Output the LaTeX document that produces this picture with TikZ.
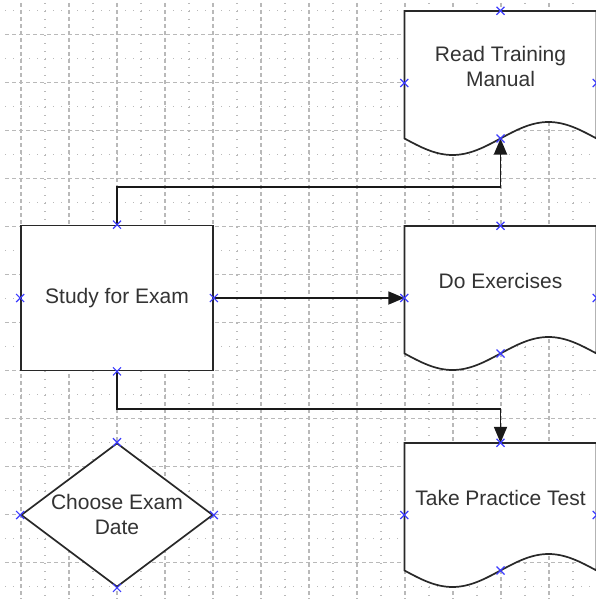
\documentclass[tikz,border=0pt]{standalone}
\usepackage{fontspec}
\setmainfont{Liberation Sans}
\usetikzlibrary{arrows.meta,shapes.geometric}
\definecolor{gridc}{RGB}{185,185,185}
\definecolor{xblue}{RGB}{60,60,255}
\definecolor{edgec}{RGB}{40,40,40}
\newcommand\mydoc[4]{% name, center x, top y, text
  \node[minimum width=192pt, minimum height=144pt, inner sep=0] (#1) at (#2,#3+72) {};
  \draw[shapeline] (#2-96,#3+127.5) -- (#2-96,#3) -- (#2+96,#3) -- (#2+96,#3+127.5)
     sin (#2+48,#3+111) cos (#2,#3+127.5) sin (#2-48,#3+144) cos (#2-96,#3+127.5) -- cycle;
  \coordinate (#1b) at (#2,#3+127.5);
  \node[lbl] (#1t) at (#2,#3+55) {#4};
}
\begin{document}
\begin{tikzpicture}[x=1pt,y=-1pt,
  major/.style={gridc, line width=1.2pt, dash pattern=on 4pt off 3pt},
  minor/.style={gridc, line width=1.2pt, dash pattern=on 1.2pt off 6.8pt},
  shapeline/.style={draw=edgec, line width=1.7pt, fill=white},
  lbl/.style={font=\fontsize{21}{25}\selectfont, text=black!80, align=center, inner sep=0},
  conn/.style={draw=black!90, line width=1.8pt, -{Triangle[length=16pt,width=13pt]}},
  xm/.style={xblue, line width=1.2pt}]
\useasboundingbox (0,0) rectangle (596,599);
% grid
\foreach \x in {45,93,...,597} \draw[minor] (\x,3) -- (\x,599);
\foreach \y in {10.5,58.5,...,599} \draw[minor] (5,\y) -- (596,\y);
\foreach \x in {21,69,...,597} \draw[major] (\x,3) -- (\x,599);
\foreach \y in {34.5,82.5,...,599} \draw[major] (5,\y) -- (596,\y);
% shapes
\node[shapeline, rectangle, minimum width=192pt, minimum height=145pt, inner sep=0,
      font=\fontsize{21}{25}\selectfont, text=black!80] (study) at (117,298) {Study for Exam};
\node[shapeline, diamond, minimum width=192pt, minimum height=144pt, inner sep=0] (choose) at (117,515) {};
\node[lbl] (chooset) at (117,514.5) {Choose Exam\\Date};
\mydoc{read}{500.5}{11}{Read Training\\Manual}
\mydoc{doex}{500.5}{226}{Do Exercises}
\mydoc{take}{500.5}{443}{Take Practice Test}
% connectors
\draw[conn] (study.north) -- ++(0,-38) -| (readb);
\draw[conn] (study.east) -- (doex.west);
\draw[conn] (study.south) -- ++(0,38) -| (take.north);
% connection points
\foreach \p in {read.north, read.west, read.east, readb,
                doex.north, doex.west, doex.east, doexb,
                take.north, take.west, take.east, takeb,
                study.north, study.west, study.east, study.south,
                choose.north, choose.west, choose.east, choose.south}
  \draw[xm] (\p) +(-4,-4) -- +(4,4) +(-4,4) -- +(4,-4);
\end{tikzpicture}
\end{document}
